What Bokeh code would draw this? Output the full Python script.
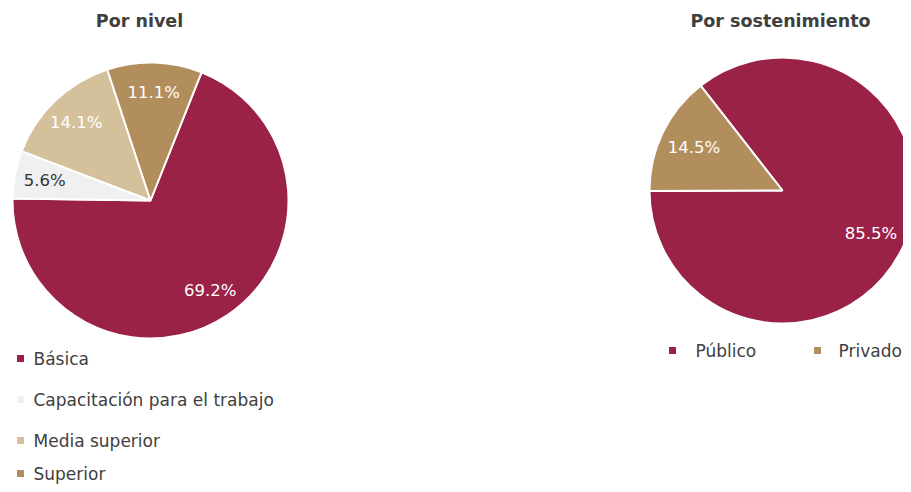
import math
from bokeh.plotting import figure
from bokeh.models import Range1d, ColumnDataSource
from bokeh.core.properties import value
from bokeh.embed import file_html
from bokeh.resources import INLINE

# ---- data ----
nivel_cats = ["Básica", "Capacitación para el trabajo", "Media superior", "Superior"]
nivel_vals = [69.2, 5.6, 14.1, 11.1]
nivel_colors = ["#9b2247", "#f0f0f0", "#d4c19c", "#b38e5d"]
nivel_label_colors = ["#ffffff", "#333333", "#ffffff", "#ffffff"]

sost_cats = ["Público", "Privado"]
sost_vals = [85.5, 14.5]
sost_colors = ["#9b2247", "#b38e5d"]
sost_label_colors = ["#ffffff", "#ffffff"]

titles = ["Por nivel", "Por sostenimiento"]

FONT = "DejaVu Sans"
W, H = 903, 484

p = figure(width=W, height=H, output_backend="svg", toolbar_location=None,
           x_range=Range1d(0, W), y_range=Range1d(-H, 0),
           min_border=0, outline_line_color=None)
p.axis.visible = False
p.grid.visible = False
p.background_fill_color = "white"
p.border_fill_color = "white"


def pie(cx, cy, r, vals, colors, lab_colors, start_deg, lab_frac):
    total = sum(vals)
    starts, ends, lx, ly, labs = [], [], [], [], []
    theta = start_deg  # clockwise from top
    for v in vals:
        span = v / total * 360.0
        t0, t1 = theta, theta + span
        starts.append(math.radians(90 - t0))
        ends.append(math.radians(90 - t1))
        mid = math.radians((t0 + t1) / 2)
        lx.append(cx + lab_frac * r * math.sin(mid))
        ly.append(-cy + lab_frac * r * math.cos(mid))
        labs.append(f"{v:.1f}%")
        theta = t1
    src = ColumnDataSource(dict(start=starts, end=ends, color=colors))
    p.wedge(x=cx, y=-cy, radius=r, start_angle="start", end_angle="end",
            direction="clock", fill_color="color", line_color="white",
            line_width=2, source=src)
    lsrc = ColumnDataSource(dict(x=lx, y=ly, t=labs, c=lab_colors))
    p.text(x="x", y="y", text="t", text_color="c", source=lsrc,
           text_font=value(FONT), text_font_size="16.5px",
           text_align="center", text_baseline="middle")


pie(150, 200, 138, nivel_vals, nivel_colors, nivel_label_colors, 21.7, 0.78)
pie(782, 190, 133, sost_vals, sost_colors, sost_label_colors, 322.0, 0.74)

# titles
p.text(x=[139, 780], y=[-20, -20], text=titles, text_color="#404040",
       text_font=value(FONT), text_font_size="17.5px", text_font_style="bold",
       text_align="center", text_baseline="middle")

# left legend (vertical)
ly_pos = [-358, -399, -440, -473]
p.scatter(x=[20] * 4, y=ly_pos, marker="square", size=7,
          fill_color=nivel_colors, line_color=None)
p.text(x=[33] * 4, y=ly_pos, text=nivel_cats, text_color="#404040",
       text_font=value(FONT), text_font_size="17px",
       text_align="left", text_baseline="middle")

# right legend (horizontal)
p.scatter(x=[672, 817], y=[-350, -350], marker="square", size=7,
          fill_color=sost_colors, line_color=None)
p.text(x=[695, 838], y=[-350, -350], text=sost_cats, text_color="#404040",
       text_font=value(FONT), text_font_size="17px",
       text_align="left", text_baseline="middle")

open("out.html", "w").write(file_html(p, INLINE))
